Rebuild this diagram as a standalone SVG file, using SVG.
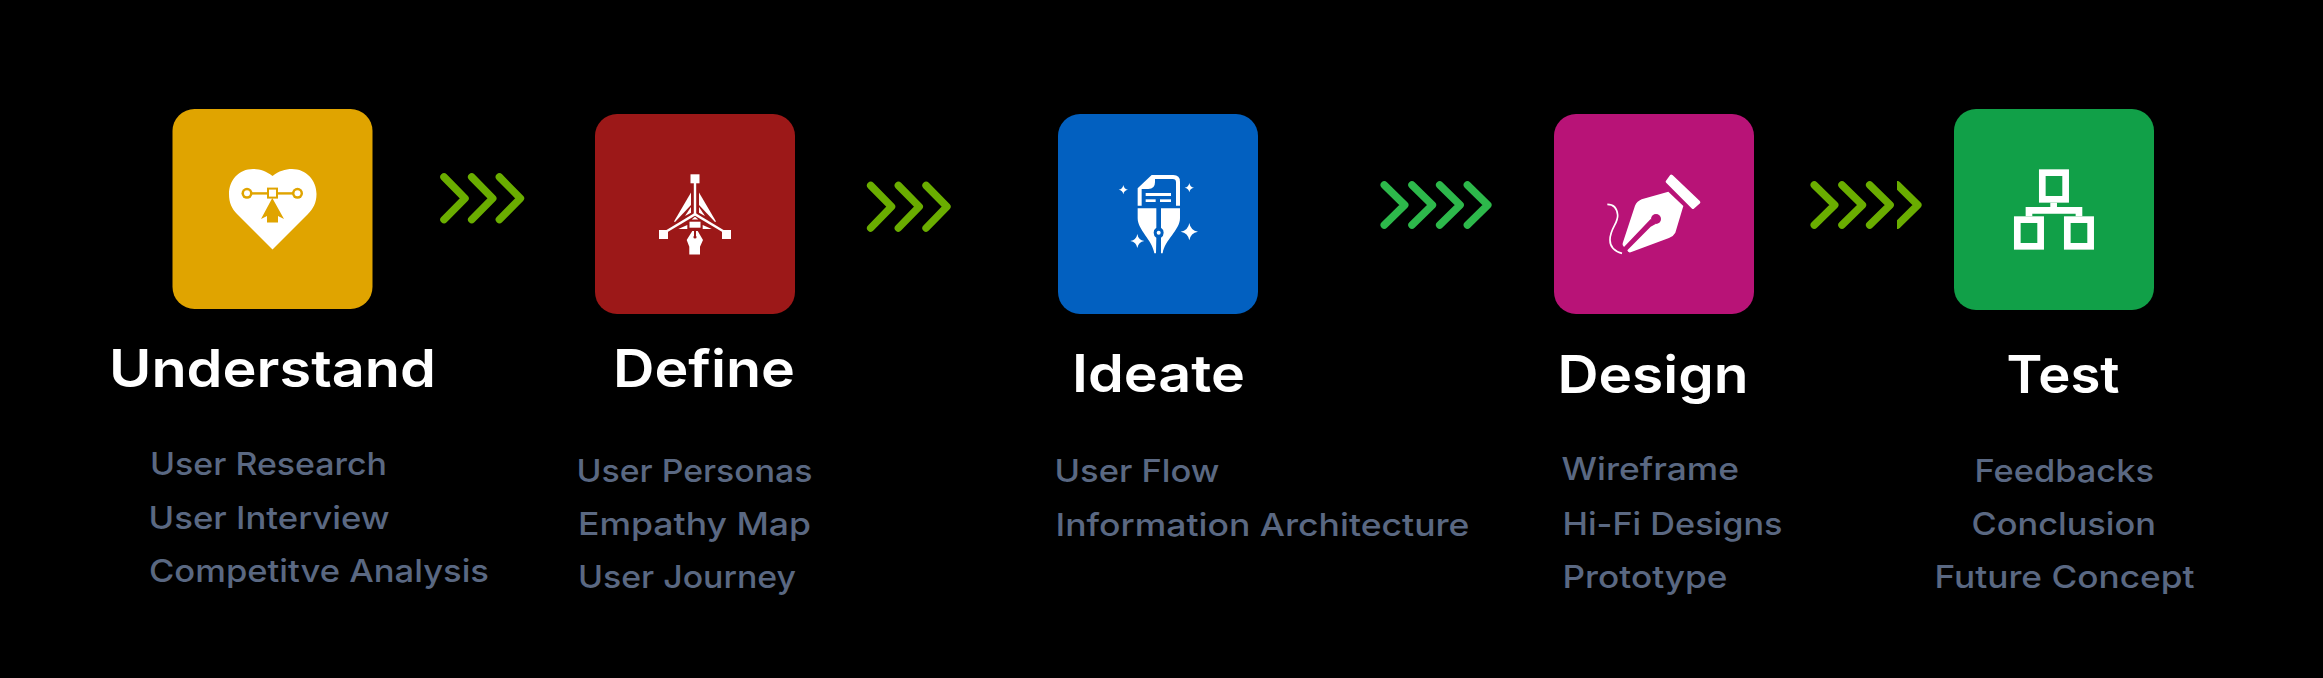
<svg xmlns="http://www.w3.org/2000/svg" xmlns:xlink="http://www.w3.org/1999/xlink" width="2323" height="678" viewBox="0 0 2323 678">
<style>
.card{rx:22px;ry:22px}
.t{font-family:"Inter","Open Sans","Liberation Sans",sans-serif;font-weight:600;font-size:52px;fill:#fff}
.s{font-family:"Inter","Open Sans","Liberation Sans",sans-serif;font-weight:500;font-size:31.5px;fill:#5a6882}
.w{fill:#fff}
.c1{fill:none;stroke:#6aad00;stroke-width:7.5;stroke-linecap:round;stroke-linejoin:round}
.c2{fill:none;stroke:#2db84b;stroke-width:7.5;stroke-linecap:round;stroke-linejoin:round}
</style>
<defs>
<path id="star" d="M0 -1Q.14 -.14 1 0Q.14 .14 0 1Q-.14 .14 -1 0Q-.14 -.14 0 -1Z"/>
<clipPath id="cut"><rect x="1897" y="170" width="40" height="70"/></clipPath>
</defs>
<rect width="2323" height="678" fill="#000"/>

<g id="connectors">
<g id="arrow-1" class="c1">
<polyline points="444,177 465,198.3 444,219.6"/><polyline points="471.7,177 492.7,198.3 471.7,219.6"/><polyline points="499.4,177 520.4,198.3 499.4,219.6"/>
</g>
<g id="arrow-2" class="c1">
<polyline points="870.7,185.5 891.5,206.7 870.7,228"/><polyline points="898.4,185.5 919.2,206.7 898.4,228"/><polyline points="926.1,185.5 946.9,206.7 926.1,228"/>
</g>
<g id="arrow-3" class="c2">
<polyline points="1384.3,185 1404.7,205 1384.3,225"/><polyline points="1412,185 1432.4,205 1412,225"/><polyline points="1439.7,185 1460.1,205 1439.7,225"/><polyline points="1467.4,185 1487.8,205 1467.4,225"/>
</g>
<g id="arrow-4" class="c1">
<polyline points="1814.3,185 1834.7,205 1814.3,225"/><polyline points="1842,185 1862.4,205 1842,225"/><polyline points="1869.7,185 1890.1,205 1869.7,225"/><polyline clip-path="url(#cut)" points="1897.4,185 1917.8,205 1897.4,225"/>
</g>
</g>

<g id="node-understand">
<rect class="card" x="172.5" y="109" width="200" height="200" fill="#e0a400"/>
<path class="w" d="M272.5 176C279 171 285 169 292 169C306 169 316.5 180 316.5 194C316.5 203 313 209 308 214L272.5 249.5L237 214C232 209 229 203 229 194C229 180 239 169 253 169C260 169 266 171 272.5 176Z"/>
<g fill="#e0a400">
<rect x="250" y="192.2" width="45" height="2.4"/>
<circle cx="247" cy="193.3" r="5.5"/><circle cx="297.5" cy="193.3" r="5.5"/>
<rect x="267" y="187.6" width="11" height="11"/>
<polygon points="272.3,198 284,219 278,216 278,222.5 267,222.5 267,216 261,219"/>
</g>
<circle class="w" cx="247" cy="193.3" r="3"/><circle class="w" cx="297.5" cy="193.3" r="3"/>
<rect class="w" x="269" y="189.6" width="7" height="7"/>
<text class="t" x="109" y="387" textLength="327" lengthAdjust="spacingAndGlyphs">Understand</text>
<text class="s" x="150" y="475" textLength="237" lengthAdjust="spacingAndGlyphs">User Research</text>
<text class="s" x="148.5" y="529" textLength="241" lengthAdjust="spacingAndGlyphs">User Interview</text>
<text class="s" x="149" y="582" textLength="340" lengthAdjust="spacingAndGlyphs">Competitve Analysis</text>
</g>

<g id="node-define">
<rect class="card" x="595" y="114" width="200" height="200" fill="#9c1818"/>
<g class="w">
<rect x="690.5" y="174.3" width="9" height="9"/>
<rect x="659" y="230" width="9" height="9"/>
<rect x="722" y="230" width="9" height="9"/>
<rect x="693.8" y="183" width="2.4" height="31"/>
<polygon points="695,212.7 696.2,215 666,233 664.8,231"/>
<polygon points="695,212.7 693.8,215 724,233 725.2,231"/>
<polygon points="691,192.5 691,205 675,222 674,221.5"/>
<polygon points="699,192.5 699,205 715,222 716,221.5"/>
<polygon points="691,207 691,212.7 685,216"/>
<polygon points="699,207 699,212.7 705,216"/>
<polygon points="678.3,229 687.3,229 687.3,225"/>
<polygon points="711.7,229 702.7,229 702.7,225"/>
<polygon points="691.7,219.5 698.3,219.5 695,216.7"/>
<rect x="689.5" y="221.7" width="11" height="6"/>
<path d="M692.3 231L686.7 240L689.3 246.7V254.5H700V246.7L703 240L697.7 231L696 231V236H694V231Z"/>
</g>
<circle cx="695" cy="237" r="1.6" fill="#9c1818"/>
<text class="t" x="613" y="387" textLength="182" lengthAdjust="spacingAndGlyphs">Define</text>
<text class="s" x="576.5" y="482" textLength="236" lengthAdjust="spacingAndGlyphs">User Personas</text>
<text class="s" x="578" y="535" textLength="233" lengthAdjust="spacingAndGlyphs">Empathy Map</text>
<text class="s" x="578" y="588" textLength="218" lengthAdjust="spacingAndGlyphs">User Journey</text>
</g>

<g id="node-ideate">
<rect class="card" x="1058" y="114" width="200" height="200" fill="#0260c0"/>
<g class="w" transform="translate(1110,165) scale(.3333)">
<path d="M83 122V70L125 30H190Q210 30 210 50V122H198V52Q198 42 188 42H135V52Q135 72 115 72H95V122Z"/>
<rect x="107" y="84" width="76" height="9"/><rect x="107" y="103" width="30" height="8"/><rect x="150" y="103" width="33" height="8"/>
<path d="M83 130H139V188Q131 193 131 203Q131 213 139 218L138 265H133C127 225 83 195 83 160Z"/>
<path d="M210 130H153V188Q161 193 161 203Q161 213 153 218L153 265H158C164 225 210 195 210 160Z"/>
<circle cx="146" cy="203" r="6" fill="#fff"/>
<use href="#star" transform="translate(40,74) scale(14)"/>
<use href="#star" transform="translate(238,68) scale(14)"/>
<use href="#star" transform="translate(238,200) scale(26)"/>
<use href="#star" transform="translate(82,228) scale(21)"/>
</g>
<text class="t" x="1072" y="392" textLength="173" lengthAdjust="spacingAndGlyphs">Ideate</text>
<text class="s" x="1054.5" y="482" textLength="165" lengthAdjust="spacingAndGlyphs">User Flow</text>
<text class="s" x="1055.5" y="536" textLength="414" lengthAdjust="spacingAndGlyphs">Information Architecture</text>
</g>

<g id="node-design">
<rect class="card" x="1554" y="114" width="200" height="200" fill="#b81377"/>
<g transform="translate(1600,165) scale(.3333)">
<path class="w" stroke="#fff" stroke-width="10" stroke-linejoin="round" d="M214 34L296 112L279 127L202 50Z"/>
<path class="w" d="M205 80L250 123L226 203Q221 213 207 219L92 262Q84 264 82 256L152 185L167 177L152 162L72 246Q66 243 68 235L105 122Q111 109 125 103Z"/>
<path d="M76 251L166 160" stroke="#b81377" stroke-width="6" fill="none"/>
<circle cx="168" cy="162" r="15" fill="#b81377"/>
<path d="M22 118Q50 118 53 150C55 175 30 190 30 225Q30 255 66 265" fill="none" stroke="#fff" stroke-width="5"/>
</g>
<text class="t" x="1557.5" y="393" textLength="191" lengthAdjust="spacingAndGlyphs">Design</text>
<text class="s" x="1561.5" y="480" textLength="177.5" lengthAdjust="spacingAndGlyphs">Wireframe</text>
<text class="s" x="1562.5" y="535" textLength="220" lengthAdjust="spacingAndGlyphs">Hi-Fi Designs</text>
<text class="s" x="1562.5" y="588" textLength="165" lengthAdjust="spacingAndGlyphs">Prototype</text>
</g>

<g id="node-test">
<rect class="card" x="1954" y="109" width="200" height="201" fill="#11a048"/>
<g transform="translate(1790,100) scale(.3333)" fill="none" stroke="#fff" stroke-width="20">
<rect x="757" y="218" width="70" height="80"/>
<rect x="682" y="359" width="70" height="80"/>
<rect x="832" y="359" width="70" height="80"/>
<path d="M791 308V331M717 349V331H867V349"/>
</g>
<text class="t" x="2006.5" y="393" textLength="113" lengthAdjust="spacingAndGlyphs">Test</text>
<text class="s" x="1974.5" y="482" textLength="179.5" lengthAdjust="spacingAndGlyphs">Feedbacks</text>
<text class="s" x="1971.5" y="535" textLength="184.5" lengthAdjust="spacingAndGlyphs">Conclusion</text>
<text class="s" x="1934.5" y="588" textLength="260" lengthAdjust="spacingAndGlyphs">Future Concept</text>
</g>
</svg>
